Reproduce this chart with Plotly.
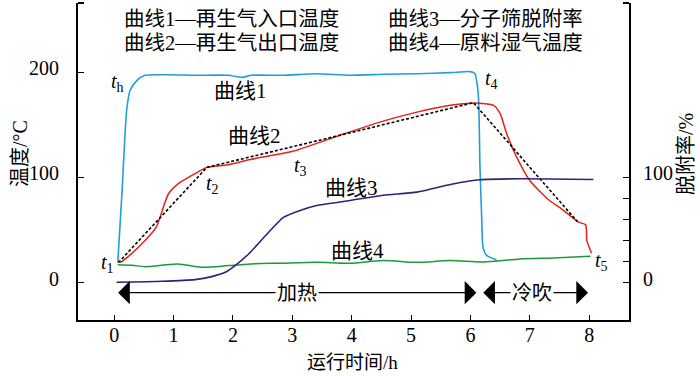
import plotly.graph_objects as go

# ---- data (hours, °C / %) ----
c1_x = [0.06, 0.13, 0.21, 0.27, 0.38, 0.52, 0.9, 1.36, 1.92, 2.15, 2.31, 2.85, 3.41, 3.97, 4.54, 5.10, 5.66, 5.99, 6.07, 6.13, 6.16, 6.19, 6.21, 6.27, 6.44]
c1_y = [19, 85, 164, 183, 192, 197, 197.5, 197, 197, 195, 197, 197, 198.5, 197, 198, 198.5, 199.5, 200.5, 199, 180, 110, 60, 34, 26, 21.5]

c2_x = [0.10, 0.24, 0.52, 0.71, 0.83, 0.91, 1.08, 1.36, 1.56, 1.92, 2.29, 3.02, 3.80, 4.50, 5.10, 5.66, 5.99, 6.15, 6.39, 6.50, 6.61, 6.78, 7.00, 7.29, 7.57, 7.82, 7.94, 7.96, 8.04]
c2_y = [19, 25, 40, 53, 72, 84, 94, 103.5, 109.5, 112, 117, 125, 140, 153, 162, 168.5, 170.5, 170.5, 168.5, 160.5, 141.5, 119, 97, 80, 68.5, 57.5, 55, 40, 28]

fit_x = [0.07, 1.56, 3.80, 6.05, 7.80]
fit_y = [19, 109.5, 140, 171, 58]

c3_x = [0.04, 0.8, 1.36, 1.64, 1.87, 2.03, 2.26, 2.57, 2.85, 3.13, 3.41, 3.97, 4.53, 5.10, 5.68, 6.16, 6.84, 8.07]
c3_y = [0.3, 1.3, 2.9, 5.7, 9.8, 16, 27, 46, 62, 68.6, 73.3, 78, 83, 86, 93.5, 97.8, 98.7, 98]

c4_x = [0.06, 0.3, 0.52, 0.8, 1.08, 1.47, 1.92, 2.29, 2.8, 3.41, 3.97, 4.53, 5.10, 5.66, 6.22, 6.84, 7.39, 8.02]
c4_y = [17, 16.5, 15.2, 16.5, 17.8, 14.6, 16.2, 17.8, 18.5, 19.3, 18.4, 21, 19.3, 21, 19.5, 22.5, 23.5, 25]

x_ticks = [0, 1, 2, 3, 4, 5, 6, 7, 8]
y_ticks = [0, 100, 200]
y2_ticks = [0, 20, 40, 60, 80, 100]
y2_text = ["0", "", "", "", "", "100"]

legend_lines = [
    ("曲线1—再生气入口温度", "曲线3—分子筛脱附率"),
    ("曲线2—再生气出口温度", "曲线4—原料湿气温度"),
]

FONT = "Liberation Serif, Noto Sans CJK SC, serif"
XR = [-0.61, 8.67]
YR = [-35.5, 265.7]

W, H = 700, 376
L, R, T, B = 78, 71, 3, 56
pw, ph = W - L - R, H - T - B


def px(xp):
    return (xp - L) / pw


def py(yp):
    return 1 - (yp - T) / ph


fig = go.Figure()
fig.add_trace(go.Scatter(x=c1_x, y=c1_y, mode="lines", line=dict(color="#1f9fd8", width=1.6, shape="spline", smoothing=0.6), showlegend=False))
fig.add_trace(go.Scatter(x=c2_x, y=c2_y, mode="lines", line=dict(color="#e2231a", width=1.5, shape="spline", smoothing=0.6), showlegend=False))
fig.add_trace(go.Scatter(x=fit_x, y=fit_y, mode="lines", line=dict(color="black", width=1.6, dash="3px,2px"), showlegend=False))
fig.add_trace(go.Scatter(x=c3_x, y=c3_y, mode="lines", line=dict(color="#33207a", width=1.6, shape="spline", smoothing=0.6), showlegend=False, yaxis="y2"))
fig.add_trace(go.Scatter(x=c4_x, y=c4_y, mode="lines", line=dict(color="#1a9a3a", width=1.5, shape="spline", smoothing=0.8), showlegend=False))

ann = []
# legend text block
for i, (a, b) in enumerate(legend_lines):
    yy = py(19 + i * 24)
    ann.append(dict(x=px(122), y=yy, xref="paper", yref="paper", text=a, showarrow=False, xanchor="left", yanchor="middle", font=dict(size=20.5, family=FONT, color="black")))
    ann.append(dict(x=px(386), y=yy, xref="paper", yref="paper", text=b, showarrow=False, xanchor="left", yanchor="middle", font=dict(size=20.5, family=FONT, color="black")))

# curve labels
for txt, x, y in [("曲线1", 2.12, 182), ("曲线2", 2.37, 139), ("曲线3", 3.99, 90), ("曲线4", 4.1, 30)]:
    ann.append(dict(x=x, y=y, xref="x", yref="y", text=txt, showarrow=False, xanchor="center", yanchor="middle", font=dict(size=21, family=FONT, color="black")))

# t labels
for sub, x, y in [("h", 0.05, 190), ("1", -0.11, 18), ("2", 1.66, 93), ("3", 3.13, 110), ("4", 6.35, 193), ("5", 8.2, 20)]:
    ann.append(dict(x=x, y=y, xref="x", yref="y", text="<i>t</i><sub>" + sub + "</sub>", showarrow=False, xanchor="center", yanchor="middle", font=dict(size=20, family=FONT, color="black")))

# phase arrows
for x0, x1 in [(0.04, 6.1), (6.19, 7.98)]:
    ann.append(dict(x=x1, y=-9.5, ax=x0, ay=-9.5, xref="x", yref="y", axref="x", ayref="y", text="", showarrow=True,
                    arrowhead=1, arrowside="end+start", arrowsize=3.0, arrowwidth=1.3, arrowcolor="black"))
for txt, x in [("加热", 3.08), ("冷吹", 7.03)]:
    ann.append(dict(x=x, y=-9.5, xref="x", yref="y", text=txt, showarrow=False, bgcolor="white", borderpad=1,
                    xanchor="center", yanchor="middle", font=dict(size=20, family=FONT, color="black")))

# axis titles
ann.append(dict(x=px(20), y=py(154), xref="paper", yref="paper", text="温度/°C", showarrow=False, textangle=-90,
                xanchor="center", yanchor="middle", font=dict(size=20, family=FONT, color="black")))
ann.append(dict(x=px(352), y=py(362), xref="paper", yref="paper", text="运行时间/h", showarrow=False,
                xanchor="center", yanchor="middle", font=dict(size=19, family=FONT, color="black")))
ann.append(dict(x=px(686), y=py(154), xref="paper", yref="paper", text="脱附率/%", showarrow=False, textangle=-90,
                xanchor="center", yanchor="middle", font=dict(size=20, family=FONT, color="black")))

shapes = [
    dict(type="line", xref="paper", yref="paper", x0=0, x1=6 / pw, y0=1, y1=1, line=dict(color="black", width=2)),
    dict(type="line", xref="paper", yref="paper", x0=1 - 6 / pw, x1=1, y0=1, y1=1, line=dict(color="black", width=2)),
]

fig.update_layout(
    width=W, height=H,
    margin=dict(l=L, r=R, t=T, b=B, autoexpand=False),
    paper_bgcolor="white", plot_bgcolor="white",
    font=dict(family=FONT, size=20, color="black"),
    annotations=ann, shapes=shapes,
    xaxis=dict(range=XR, tickvals=x_ticks, ticks="inside", ticklen=5, tickwidth=1.3, tickcolor="black",
               showline=True, linecolor="black", linewidth=2, showgrid=False, zeroline=False, automargin=False,
               tickfont=dict(size=20, family=FONT), ticklabelstandoff=-4),
    yaxis=dict(range=YR, tickvals=y_ticks, ticks="inside", ticklen=6, tickwidth=1.3, tickcolor="black",
               showline=True, linecolor="black", linewidth=2, showgrid=False, zeroline=False, automargin=False,
               tickfont=dict(size=20, family=FONT), ticklabelstandoff=13, ticklabelshift=-4),
    yaxis2=dict(range=YR, overlaying="y", side="right", tickvals=y2_ticks, ticktext=y2_text, ticks="inside", ticklen=6,
                tickwidth=1.3, tickcolor="black", showline=True, linecolor="black", linewidth=2, showgrid=False,
                zeroline=False, automargin=False, tickfont=dict(size=20, family=FONT), ticklabelstandoff=8, ticklabelshift=-4),
)

fig.write_html("out.html", config={"displayModeBar": False}, post_script="document.body.style.margin='0';")
